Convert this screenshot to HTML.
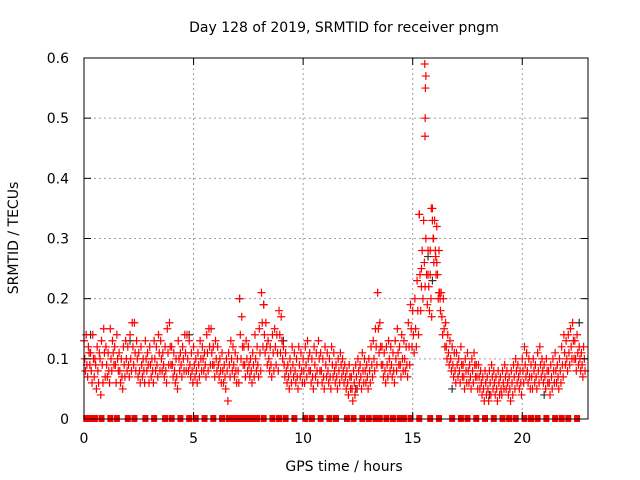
<!DOCTYPE html>
<html><head><meta charset="utf-8"><style>
body{margin:0;background:#fff}
svg{display:block;font-family:"DejaVu Sans","Liberation Sans",sans-serif}
</style></head><body>
<svg id="c" width="640" height="480" viewBox="0 0 640 480">
<rect width="640" height="480" fill="#fff"/>
<g id="grid"></g>
<g id="marks"></g>
<rect x="84" y="58" width="504" height="361" fill="none" stroke="#000" stroke-width="1"/>
<g id="axes"></g>
<text x="344" y="32" text-anchor="middle" font-size="14">Day 128 of 2019, SRMTID for receiver pngm</text>
<text x="344" y="471" text-anchor="middle" font-size="14">GPS time / hours</text>
<text x="18" y="238" text-anchor="middle" font-size="14" transform="rotate(-90 18 238)">SRMTID / TECUs</text>
</svg>
<script>
const xTicks=[0,5,10,15,20];
const yTicks=[0,0.1,0.2,0.3,0.4,0.5,0.6];
const yTickLabels=["0","0.1","0.2","0.3","0.4","0.5","0.6"];
const startHour=0, stepHour=0.1;
const hiVals=[.13,.14,.12,.11,.14,.10,.12,.11,.13,.15,.12,.11,.15,.13,.12,.14,.11,.10,.12,.13,.12,.14,.16,.16,.13,.11,.12,.10,.13,.11,.12,.10,.13,.12,.14,.13,.11,.12,.15,.16,.12,.11,.10,.13,.11,.12,.14,.14,.13,.11,.12,.10,.11,.13,.12,.11,.14,.15,.15,.12,.13,.12,.10,.11,.09,.10,.11,.13,.12,.11,.10,.20,.17,.12,.13,.12,.10,.11,.14,.12,.15,.21,.19,.16,.13,.12,.14,.15,.14,.18,.17,.12,.11,.09,.10,.12,.11,.10,.12,.11,.10,.12,.13,.11,.10,.12,.11,.13,.11,.10,.12,.11,.10,.12,.11,.09,.10,.11,.10,.09,.08,.09,.07,.08,.09,.10,.09,.11,.10,.09,.10,.12,.13,.15,.21,.16,.12,.11,.12,.13,.12,.11,.13,.15,.12,.14,.13,.12,.16,.19,.18,.20,.23,.34,.22,.33,.30,.28,.24,.35,.33,.32,.28,.21,.20,.16,.14,.13,.12,.11,.11,.10,.12,.09,.10,.11,.09,.10,.11,.09,.09,.08,.07,.08,.07,.08,.09,.08,.07,.08,.07,.08,.09,.08,.07,.08,.09,.10,.09,.08,.10,.12,.11,.10,.09,.10,.09,.11,.12,.10,.09,.10,.08,.09,.10,.11,.09,.10,.12,.14,.13,.14,.15,.16,.13,.14,.12,.11,.12];
const midVals=[.10,.09,.11,.08,.10,.09,.08,.10,.09,.11,.09,.08,.10,.11,.09,.10,.08,.07,.09,.10,.09,.10,.12,.11,.10,.08,.09,.08,.10,.09,.09,.08,.10,.09,.11,.10,.09,.08,.11,.12,.09,.08,.07,.10,.09,.10,.11,.10,.09,.08,.09,.08,.09,.10,.10,.09,.11,.12,.11,.09,.10,.09,.08,.08,.07,.08,.09,.10,.09,.08,.08,.14,.12,.09,.10,.09,.08,.09,.10,.09,.11,.16,.14,.12,.10,.09,.11,.12,.11,.14,.13,.09,.08,.07,.08,.09,.08,.07,.09,.08,.08,.09,.10,.08,.07,.09,.08,.10,.08,.07,.09,.08,.07,.09,.08,.07,.08,.09,.08,.07,.06,.07,.05,.06,.07,.08,.07,.08,.08,.07,.08,.09,.10,.12,.15,.12,.09,.08,.09,.10,.09,.08,.10,.11,.09,.10,.10,.09,.12,.15,.14,.15,.18,.24,.28,.26,.24,.22,.20,.30,.28,.24,.21,.17,.15,.12,.11,.10,.09,.08,.09,.08,.09,.07,.08,.08,.07,.08,.09,.07,.07,.06,.05,.06,.05,.06,.07,.06,.05,.06,.05,.06,.07,.06,.05,.06,.07,.08,.07,.06,.08,.09,.08,.07,.07,.08,.07,.08,.09,.08,.07,.08,.06,.07,.08,.08,.07,.08,.09,.11,.10,.11,.12,.13,.10,.11,.10,.09,.10];
const loVals=[.08,.07,.09,.06,.07,.05,.06,.04,.06,.07,.07,.06,.08,.09,.06,.08,.06,.05,.07,.08,.07,.08,.09,.08,.07,.06,.07,.06,.08,.06,.07,.06,.08,.07,.08,.08,.07,.06,.09,.09,.07,.06,.05,.08,.07,.08,.08,.08,.07,.06,.07,.06,.07,.08,.08,.07,.08,.09,.09,.07,.08,.07,.06,.06,.05,.03,.07,.08,.07,.06,.06,.10,.09,.07,.08,.07,.06,.07,.08,.07,.08,.12,.11,.09,.08,.07,.08,.09,.08,.11,.10,.07,.06,.05,.06,.07,.06,.05,.07,.06,.06,.07,.08,.06,.05,.07,.06,.08,.06,.05,.07,.06,.05,.07,.06,.05,.06,.07,.06,.05,.04,.05,.03,.04,.05,.06,.05,.06,.06,.05,.06,.07,.08,.09,.11,.09,.07,.06,.07,.08,.07,.06,.08,.09,.07,.08,.08,.07,.09,.12,.11,.12,.14,.18,.20,.22,.19,.18,.17,.26,.24,.20,.18,.14,.12,.10,.09,.08,.07,.06,.07,.06,.07,.05,.06,.06,.05,.06,.07,.05,.05,.04,.03,.04,.03,.04,.05,.04,.03,.04,.04,.05,.05,.04,.03,.04,.05,.06,.05,.04,.06,.07,.06,.05,.05,.06,.05,.06,.07,.06,.05,.06,.04,.05,.06,.06,.05,.06,.07,.09,.08,.09,.10,.10,.08,.09,.08,.07,.08];
const peakTimes=[15.55,15.6,15.58,15.57,15.56,15.3,15.85,15.9,15.95,15.8,16.05,16.1,16.2,16.25,15.4,15.7];
const peakVals=[.59,.57,.55,.50,.47,.34,.35,.33,.30,.28,.27,.26,.21,.20,.25,.24];
const zeroTimes=[0.1,0.3,0.4,0.5,0.8,1.2,1.5,2.0,2.3,2.8,3.2,3.7,4.0,4.4,4.8,5.1,5.5,5.9,6.3,6.6,6.8,6.9,7.0,7.1,7.3,7.4,7.6,7.7,7.9,8.2,8.6,8.9,9.2,9.6,10.1,10.4,10.8,11.2,11.5,12.0,12.3,12.7,13.0,13.3,13.5,13.8,14.1,14.4,14.6,14.9,15.3,15.8,16.2,16.8,17.2,17.5,17.9,18.3,18.7,19.1,19.4,19.7,20.1,20.4,20.7,21.1,21.5,21.8,22.1,22.5];
const blackTimes=[0.3,2.1,4.8,7.1,8.2,9.1,12.4,15.7,15.9,16.8,18.5,21.0,22.6];
const blackVals=[.14,.13,.14,.20,.19,.13,.05,.27,.23,.05,.04,.04,.16];

const NS="http://www.w3.org/2000/svg";
const X0=84,X1=588,Y0=419,Y1=58,XMAX=23,YMAX=0.6;
function xs(h){return X0+h/XMAX*(X1-X0);}
function ys(v){return Y0-v/YMAX*(Y0-Y1);}
const grid=document.getElementById('grid'),axes=document.getElementById('axes'),marks=document.getElementById('marks');
function mk(tag,attrs,parent){const e=document.createElementNS(NS,tag);for(const k in attrs)e.setAttribute(k,attrs[k]);parent.appendChild(e);return e;}
xTicks.forEach(t=>{
  const x=xs(t);
  if(t>0){const g=mk('line',{x1:x,y1:Y1,x2:x,y2:Y0,stroke:'#a0a0a0','stroke-dasharray':'2,3'},grid);
  
  }
  const a=mk('line',{x1:x,y1:Y0,x2:x,y2:Y0-7,stroke:'#000'},axes);
  
  
  const b=mk('line',{x1:x,y1:Y1,x2:x,y2:Y1+7,stroke:'#000'},axes);
  
  
  const l=mk('text',{x:x,y:443,'text-anchor':'middle','font-size':'14'},axes);
  l.textContent=String(t);
  
  
});
yTicks.forEach((t,i)=>{
  const y=ys(t);
  if(t>0&&t<0.6){const g=mk('line',{x1:X0,y1:y,x2:X1,y2:y,stroke:'#a0a0a0','stroke-dasharray':'2,3'},grid);
  
  }
  const a=mk('line',{x1:X0,y1:y,x2:X0+7,y2:y,stroke:'#000'},axes);
  
  
  const b=mk('line',{x1:X1,y1:y,x2:X1-7,y2:y,stroke:'#000'},axes);
  
  
  const l=mk('text',{x:69,y:y+5,'text-anchor':'end','font-size':'14'},axes);
  l.textContent=yTickLabels[i];
  
  
});
function plus(h,v,color,name){
  const x=xs(h),y=ys(v);
  const p=mk('path',{d:`M${x-4} ${y}H${x+4}M${x} ${y-4}V${y+4}`,stroke:color,'stroke-width':'1.2',fill:'none'},marks);
  
  
}
blackTimes.forEach((t,i)=>plus(t,blackVals[i],'#333','black-point'));
[hiVals,midVals,loVals].forEach((arr,k)=>{
  arr.forEach((v,i)=>{
    const h=startHour+i*stepHour+k*0.033;
    plus(h,v,'#ff0000','red-point');
  });
});
peakTimes.forEach((t,i)=>plus(t,peakVals[i],'#ff0000','red-peak-point'));
zeroTimes.forEach(t=>{
  const x=xs(t);
  const r=mk('rect',{x:x-3,y:Y0-4,width:6,height:7,fill:'#ff0000'},marks);
  
  
});
</script>
</body></html>
